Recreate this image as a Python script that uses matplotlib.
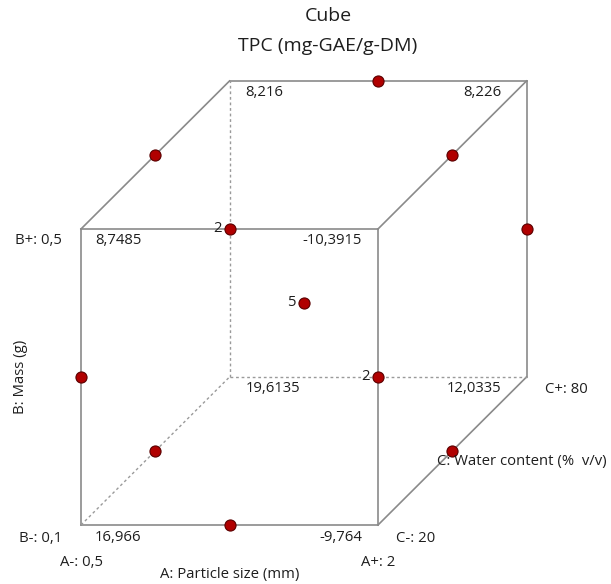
import matplotlib
matplotlib.use("Agg")
import matplotlib.pyplot as plt
import numpy as np

# --- Data (coded levels -1 / 0 / +1 for A, B, C) ---
TITLE = "Cube"
SUBTITLE = "TPC (mg-GAE/g-DM)"

# corner predictions
corner_A = [-1, 1, -1, 1, -1, 1, -1, 1]
corner_B = [-1, -1, 1, 1, -1, -1, 1, 1]
corner_C = [-1, -1, -1, -1, 1, 1, 1, 1]
corner_vals = ["16,966", "-9,764", "8,7485", "-10,3915",
               "19,6135", "12,0335", "8,216", "8,226"]

# Box-Behnken design runs (edge midpoints + centre)
run_A = [0, 0, -1, 1, 0, 0, -1, 1, -1, 1, -1, 1, 0]
run_B = [-1, 1, 0, 0, -1, 1, 0, 0, -1, -1, 1, 1, 0]
run_C = [-1, -1, -1, -1, 1, 1, 1, 1, 0, 0, 0, 0, 0]
run_reps = [1, 1, 1, 1, 1, 1, 1, 1, 1, 1, 1, 1, 5]

factor_lo = {"A": "A-: 0,5", "B": "B-: 0,1", "C": "C-: 20"}
factor_hi = {"A": "A+: 2", "B": "B+: 0,5", "C": "C+: 80"}
factor_names = {"A": "A: Particle size (mm)", "B": "B: Mass (g)",
                "C": "C: Water content (%  v/v)"}

DEPTH = 1.0
EDGE = "#8a8a8a"
PT = 0.72  # px -> points at dpi 100
FS = 10.7
TXT = "#1e1e1e"


def proj(a, b, c):
    a, b, c = np.asarray(a, float), np.asarray(b, float), np.asarray(c, float)
    return a + DEPTH * (c + 1) / 2, b + DEPTH * (c + 1) / 2


plt.rcParams['font.family'] = ['Open Sans', 'DejaVu Sans']
fig = plt.figure(figsize=(6.11, 5.84), dpi=100)
ax = fig.add_axes([0, 0, 1, 1])
ax.set_xlim(-1.5455, 2.569)
ax.set_ylim(-1.3986, 2.547)
ax.axis("off")

# cube edges: (start, end, hidden)
edges = []
for a0, b0, c0, a1, b1, c1 in [
        (-1, -1, -1, 1, -1, -1), (-1, 1, -1, 1, 1, -1),
        (-1, -1, -1, -1, 1, -1), (1, -1, -1, 1, 1, -1),
        (-1, 1, 1, 1, 1, 1), (1, -1, 1, 1, 1, 1),
        (-1, 1, -1, -1, 1, 1), (1, 1, -1, 1, 1, 1), (1, -1, -1, 1, -1, 1)]:
    edges.append(((a0, b0, c0), (a1, b1, c1), False))
for a0, b0, c0, a1, b1, c1 in [
        (-1, -1, 1, 1, -1, 1), (-1, -1, 1, -1, 1, 1), (-1, -1, -1, -1, -1, 1)]:
    edges.append(((a0, b0, c0), (a1, b1, c1), True))

for p0, p1, hidden in edges:
    xs, ys = proj([p0[0], p1[0]], [p0[1], p1[1]], [p0[2], p1[2]])
    if hidden:
        ax.plot(xs, ys, color="#9a9a9a", lw=1.0, ls=(0, (2, 2)), zorder=1)
    else:
        ax.plot(xs, ys, color=EDGE, lw=1.2, zorder=1)

# corner values
cx, cy = proj(corner_A, corner_B, corner_C)
for x, y, a, c, v in zip(cx, cy, corner_A, corner_C, corner_vals):
    if a < 0:
        dx, ha = (14 if c < 0 else 16), "left"
    else:
        dx, ha = (-16 if c < 0 else -25), "right"
    ax.annotate(v, (x, y), xytext=(dx * PT, -12 * PT), textcoords="offset points",
                ha=ha, va="center", fontsize=FS, color=TXT)

# design points, counting overlaps in the projection
px, py = proj(run_A, run_B, run_C)
counts = {}
for x, y, r in zip(px, py, run_reps):
    key = (round(x, 3), round(y, 3))
    counts[key] = counts.get(key, 0) + r
for (x, y), n in counts.items():
    ax.plot(x, y, "o", ms=8, mfc="#b00000", mec="#5a0000", mew=0.8, zorder=3)
    if n > 1:
        ax.annotate(str(n), (x, y), xytext=(-8 * PT, 0), textcoords="offset points",
                    ha="right", va="center", fontsize=FS, color=TXT)

# factor level labels
def lab(txt, a, b, c, dx, dy, ha, **kw):
    x, y = proj(a, b, c)
    ax.annotate(txt, (x, y), xytext=(dx * PT, dy * PT), textcoords="offset points",
                ha=ha, va="center", fontsize=FS, color=TXT, **kw)

lab(factor_hi["B"], -1, 1, -1, -19, -12, "right")
lab(factor_lo["B"], -1, -1, -1, -19, -13, "right")
lab(factor_lo["A"], -1, -1, -1, 0, -37, "center")
lab(factor_hi["A"], 1, -1, -1, 0, -37, "center")
lab(factor_lo["C"], 1, -1, -1, 18, -13, "left")
lab(factor_hi["C"], 1, -1, 1, 18, -13, "left")
lab(factor_names["A"], 0, -1, -1, 0, -49, "center")
lab(factor_names["B"], -1, 0, -1, -61, 0, "center", rotation=90)
lab(factor_names["C"], 1, -1, 0, -15, -11, "left")

fig.text(328 / 611, 1 - 16 / 584, TITLE, ha="center", va="center", fontsize=14, color=TXT)
fig.text(328 / 611, 1 - 46 / 584, SUBTITLE, ha="center", va="center", fontsize=14, color=TXT)

fig.savefig("out.png", dpi=100)
